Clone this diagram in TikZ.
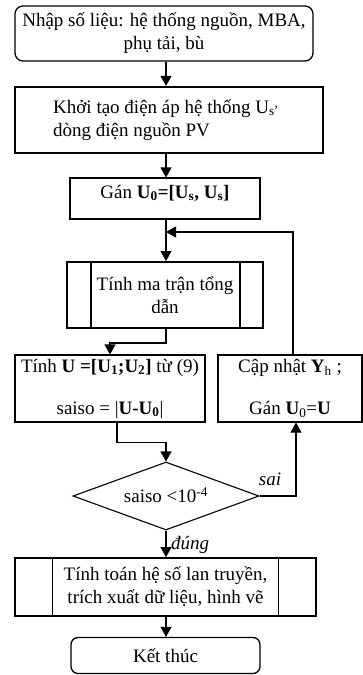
\documentclass[tikz,border=0pt]{standalone}
\usepackage{fontspec}
\setmainfont{Liberation Serif}
\usetikzlibrary{arrows.meta,shapes.geometric,calc}

\newcommand{\bodysize}{\fontsize{19}{23}\selectfont}

\tikzset{
  box/.style={draw, line width=1.1pt, inner sep=0pt, align=center},
  thickbox/.style={box, line width=2.2pt},
  term/.style={box, rounded corners=8pt, line width=1.3pt},
  txt/.style={inner sep=0pt, align=center},
  arr/.style={line width=1.1pt, -{Triangle[length=10pt,width=11pt]}},
  ln/.style={line width=1.1pt},
  lbl/.style={inner sep=0pt, font=\bodysize\itshape}
}

\begin{document}
\begin{tikzpicture}[x=1pt,y=-1pt,font=\bodysize]
\useasboundingbox (0,0) rectangle (363,675);

% main axis of the flow
\coordinate (ax) at (166,0);

% input data
\node[term, minimum width=298pt, minimum height=55pt] (n1) at (164,33.5)
  {Nhập số liệu: hệ thống nguồn, MBA,\\phụ tải, bù};

% initialisation
\node[thickbox, minimum width=308pt, minimum height=66pt] (n2) at (169,120) {};
\node[txt, anchor=west, align=left] (n2t) at (53,120)
  {Khởi tạo điện áp hệ thống U\textsubscript{s}\textsuperscript{,}\\dòng điện nguồn PV};

% U0 assignment
\node[box, minimum width=190pt, minimum height=41pt] (n3) at (165,198.5) {};
\node[txt] (n3t) at (165,193)
  {Gán \textbf{U\textsubscript{0}=[U\textsubscript{s}, U\textsubscript{s}]}};

% admittance matrix (predefined process)
\node[box, line width=2pt, minimum width=196pt, minimum height=66pt] (n4) at (165,295)
  {Tính ma trận tổng\\dẫn};
\draw[ln] ($(n4.north west)+(25,0)$) -- ($(n4.south west)+(25,0)$);
\draw[ln] ($(n4.north east)+(-24,0)$) -- ($(n4.south east)+(-24,0)$);

% voltage computation
\node[box, minimum width=190pt, minimum height=67pt] (n5) at (110,388.5)
  {Tính \textbf{U =[U\textsubscript{1};U\textsubscript{2}]} từ (9)\\[19pt]saiso = |\textbf{U-U\textsubscript{0}}|};

% update
\node[box, minimum width=144pt, minimum height=67pt] (n6) at (290,388.5)
  {Cập nhật \textbf{Y}\textsubscript{h} ;\\[19pt]Gán \textbf{U}\textsubscript{0}=\textbf{U}};

% convergence test
\node[draw, line width=1.1pt, diamond, aspect=2.735, inner sep=0pt,
      minimum width=186pt, minimum height=68pt] (n7) at (166,496) {};
\node[txt] (n7t) at (166,495) {saiso <10\textsuperscript{-4}};

% final computation (predefined process)
\node[box, line width=1.8pt, minimum width=301pt, minimum height=58pt] (n8) at (165.5,587)
  {Tính toán hệ số lan truyền,\\trích xuất dữ liệu, hình vẽ};
\draw[ln] ($(n8.north west)+(38,0)$) -- ($(n8.south west)+(38,0)$);
\draw[ln] ($(n8.north east)+(-38,0)$) -- ($(n8.south east)+(-38,0)$);

% end
\node[term, rounded corners=7pt, minimum width=189pt, minimum height=36pt] (n9) at (165.5,655.5)
  {Kết thúc};

% connectors
\coordinate (jn) at (166,232);
\coordinate (up) at (293,0);
\coordinate (sx) at (296,0);

\draw[arr] (n1.south -| ax) -- (n2.north -| ax);
\draw[arr] (n2.south -| ax) -- (n3.north -| ax);
\draw[arr] (n3.south -| ax) -- (n4.north -| ax);
\draw[arr] (n6.north -| up) |- (jn);
\draw[arr] (n4.south -| ax) -- ++(0,14) -| (n5.north);
\draw[arr] ($(n5.south)+(7,0)$) -- ++(0,20) -| (n7.north);
\draw[arr] (n7.east) -| (n6.south -| sx);
\node[lbl] (sai) at (270,479) {sai};
\draw[arr] (n7.south) -- (n8.north -| ax);
\node[lbl, anchor=west] (dung) at (171,545) {đúng};
\draw[arr] (n8.south -| ax) -- (n9.north -| ax);
\end{tikzpicture}
\end{document}
